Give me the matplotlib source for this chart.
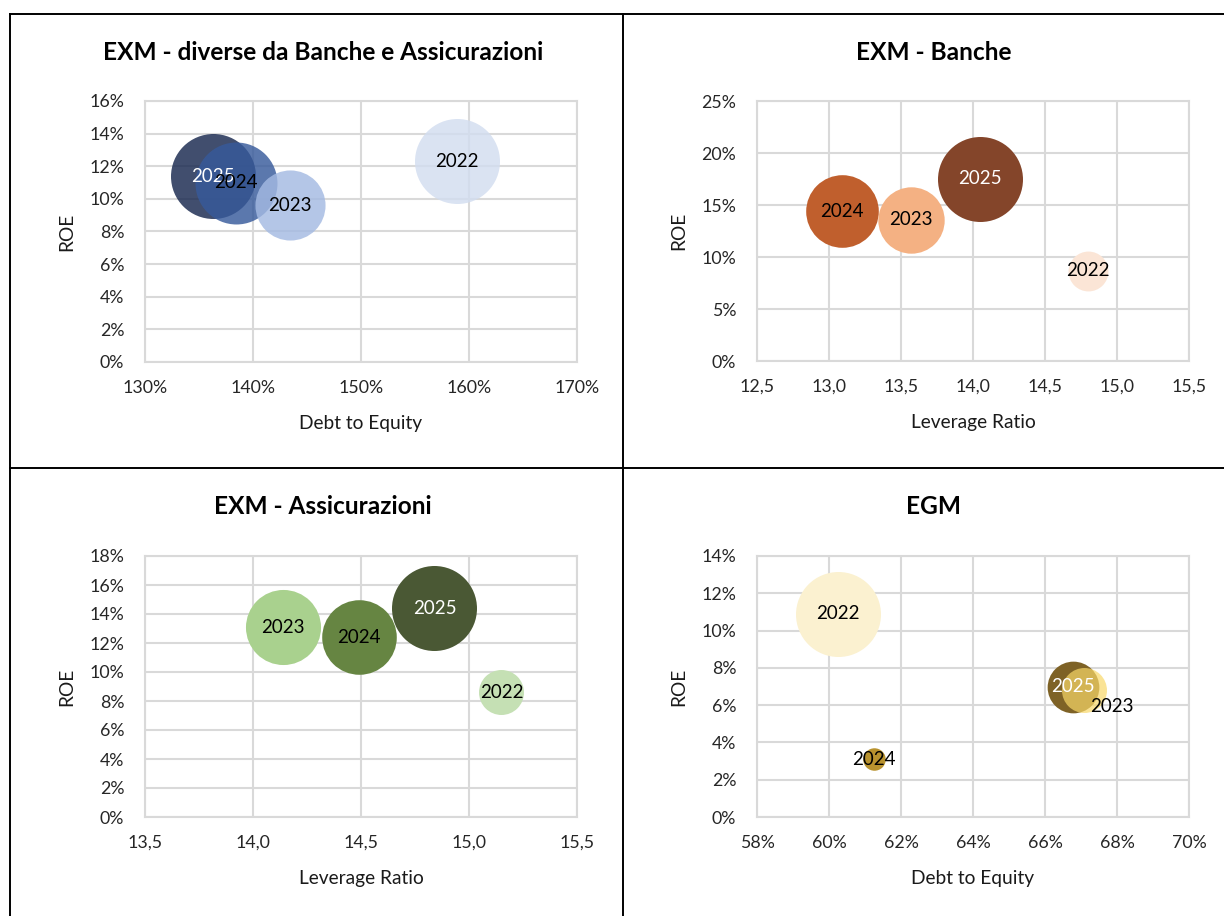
import matplotlib.pyplot as plt
from matplotlib.lines import Line2D
from matplotlib.ticker import FuncFormatter, MultipleLocator

plt.rcParams['font.family'] = ['Lato', 'DejaVu Sans']

years = ['2022', '2023', '2024', '2025']

# EXM - diverse da Banche e Assicurazioni
other_de = [158.9, 143.4, 138.4, 136.3]
other_roe = [12.3, 9.6, 11.0, 11.4]
other_size = [100, 68, 93, 100]

# EXM - Banche
banks_lev = [14.80, 13.57, 13.09, 14.05]
banks_roe = [8.7, 13.6, 14.4, 17.5]
banks_size = [22, 61, 73, 100]

# EXM - Assicurazioni
ins_lev = [15.15, 14.14, 14.49, 14.84]
ins_roe = [8.6, 13.1, 12.4, 14.4]
ins_size = [28, 78, 77, 100]

# EGM
egm_de = [60.25, 67.08, 61.24, 66.78]
egm_roe = [10.9, 6.8, 3.1, 7.0]
egm_size = [100, 28, 7, 37]


def pct(v, _):
    return f'{v:.0f}%'


def comma(v, _):
    return f'{v:.1f}'.replace('.', ',')


panels = [
    dict(x=other_de, y=other_roe, size=other_size,
         title='EXM - diverse da Banche e Assicurazioni', xlabel='Debt to Equity',
         xlim=(130, 170), xstep=10, ylim=(0, 16), ystep=2, xfmt=pct,
         colors=['#D2DDF0', '#A4BAE2', '#375A9B', '#17274E'], alphas=[0.82] * 4,
         offsets=[(0, 0)] * 4,
         rect=[145 / 1224, 1 - 362 / 916, 432 / 1224, 261 / 916], title_x=323),
    dict(x=banks_lev, y=banks_roe, size=banks_size,
         title='EXM - Banche', xlabel='Leverage Ratio',
         xlim=(12.5, 15.5), xstep=0.5, ylim=(0, 25), ystep=5, xfmt=comma,
         colors=['#FBE5D6', '#F4B183', '#C05F2D', '#84452A'], alphas=[1] * 4,
         offsets=[(0, 0)] * 4,
         rect=[757 / 1224, 1 - 361 / 916, 432 / 1224, 260 / 916], title_x=934),
    dict(x=ins_lev, y=ins_roe, size=ins_size,
         title='EXM - Assicurazioni', xlabel='Leverage Ratio',
         xlim=(13.5, 15.5), xstep=0.5, ylim=(0, 18), ystep=2, xfmt=comma,
         colors=['#C5E0B4', '#A9D18E', '#668542', '#4A5834'], alphas=[1] * 4,
         offsets=[(0, 0)] * 4,
         rect=[145 / 1224, 1 - 817 / 916, 432 / 1224, 261 / 916], title_x=323),
    dict(x=egm_de, y=egm_roe, size=egm_size,
         title='EGM', xlabel='Debt to Equity',
         xlim=(58, 70), xstep=2, ylim=(0, 14), ystep=2, xfmt=pct,
         colors=['#FBF1D0', '#F8D869', '#B8922E', '#7E6226'], alphas=[1, 0.7, 1, 1],
         offsets=[(0, 0), (20, -12), (0, 0), (0, 0)],
         rect=[757 / 1224, 1 - 817 / 916, 432 / 1224, 261 / 916], title_x=934),
]

fig = plt.figure(figsize=(12.24, 9.16), dpi=100)

# largest bubble ~85 px wide, area proportional to size like Excel
s_max = (2 * 42.5 * 72 / 100) ** 2

for i, p in enumerate(panels):
    ax = fig.add_axes(p['rect'])
    order = sorted(range(len(years)), key=lambda k: -p['size'][k])
    for z, k in enumerate(order):
        ax.scatter(p['x'][k], p['y'][k], s=s_max * p['size'][k] / max(p['size']),
                   color=p['colors'][k], alpha=p['alphas'][k], linewidths=0,
                   zorder=3 + z)
        ax.annotate(years[k], (p['x'][k], p['y'][k]), xytext=p['offsets'][k],
                    textcoords='offset points', ha='center', va='center',
                    fontsize=13.5, color='white' if years[k] == '2025' else 'black',
                    zorder=20 + z)

    ax.set_xlim(*p['xlim'])
    ax.set_ylim(*p['ylim'])
    ax.xaxis.set_major_locator(MultipleLocator(p['xstep']))
    ax.yaxis.set_major_locator(MultipleLocator(p['ystep']))
    ax.xaxis.set_major_formatter(FuncFormatter(p['xfmt']))
    ax.yaxis.set_major_formatter(FuncFormatter(pct))
    ax.grid(color='#D9D9D9', linewidth=1.5)
    ax.set_axisbelow(True)
    for sp in ax.spines.values():
        sp.set_color('#D9D9D9')
        sp.set_linewidth(1.5)
    ax.tick_params(axis='x', length=0, pad=13, labelsize=12.8, labelcolor='#262626')
    ax.tick_params(axis='y', length=0, pad=15, labelsize=12.8, labelcolor='#262626')

    ax.set_xlabel(p['xlabel'], fontsize=13.8, color='#1a1a1a', va='center')
    ax.xaxis.set_label_coords(0.5, -0.2375)
    ax.set_ylabel('ROE', fontsize=13.8, color='#1a1a1a', va='center')
    ax.yaxis.set_label_coords(-0.18, 0.5)

    title_y = 52 if i < 2 else 507
    fig.text(p['title_x'] / 1224, 1 - title_y / 916, p['title'], ha='center',
             va='center', fontsize=17.6, fontweight='bold', color='black')

# table borders around the four charts
line_kw = dict(color='black', linewidth=1.4, transform=fig.transFigure)
top = 1 - 14 / 916
mid_y = 1 - 468 / 916
left = 10 / 1224
mid_x = 623 / 1224
fig.add_artist(Line2D([left, 1], [top, top], **line_kw))
fig.add_artist(Line2D([left, 1], [mid_y, mid_y], **line_kw))
fig.add_artist(Line2D([left, left], [0, top], **line_kw))
fig.add_artist(Line2D([mid_x, mid_x], [0, top], **line_kw))

fig.savefig('out.png', dpi=100)
